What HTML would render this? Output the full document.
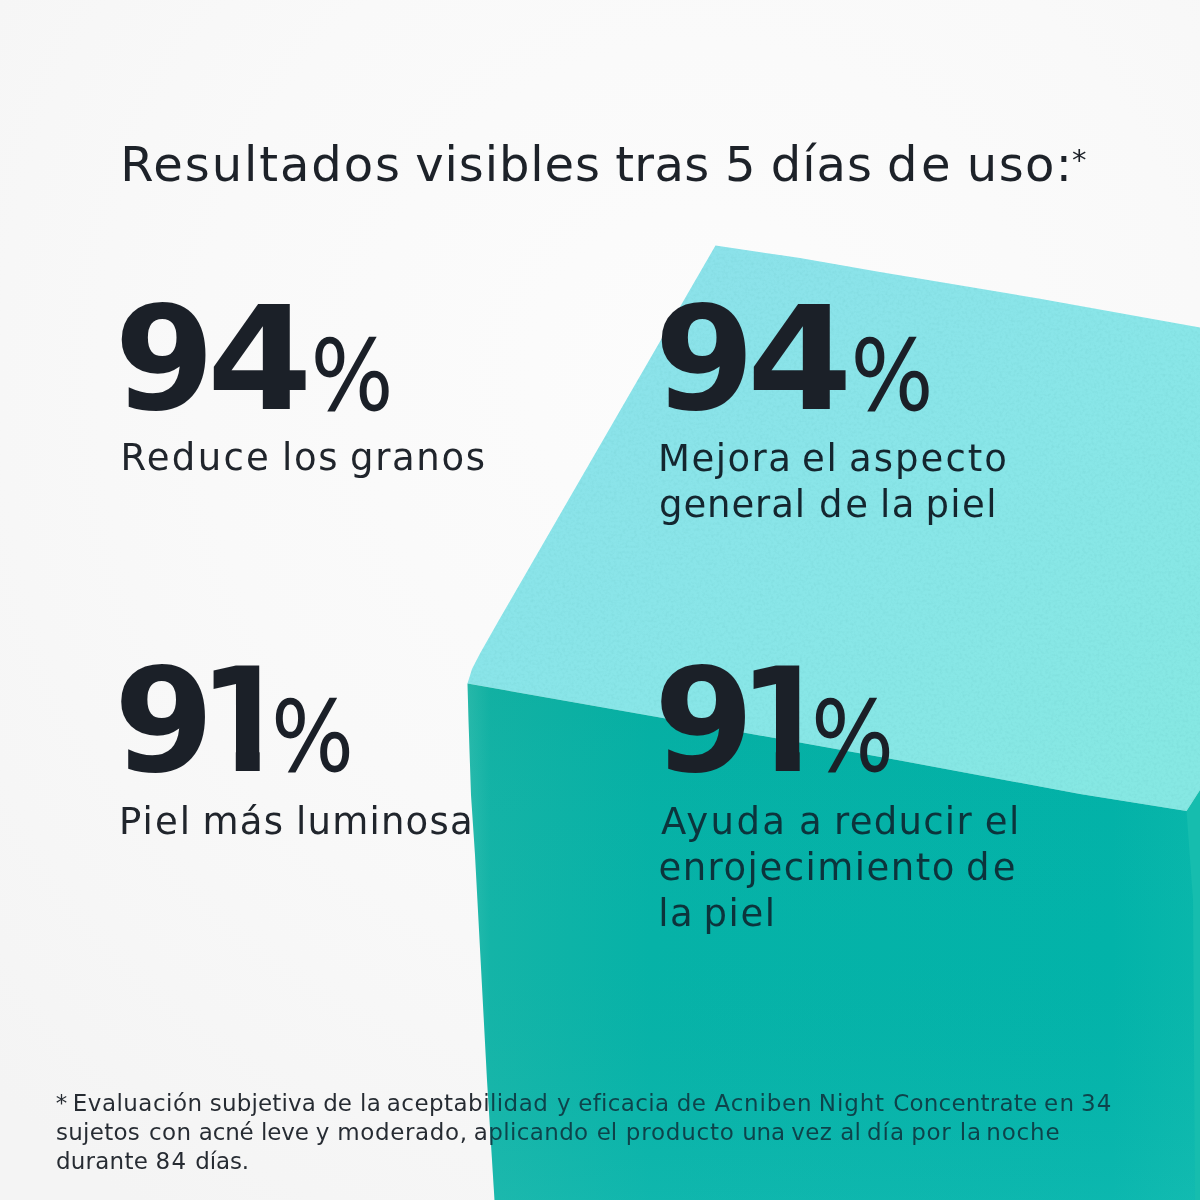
<!DOCTYPE html>
<html lang="es">
<head>
<meta charset="utf-8">
<title>Resultados visibles tras 5 días de uso</title>
<style>
html,body{margin:0;padding:0;background:#f8f8f8;}
body{width:1200px;height:1200px;overflow:hidden;position:relative;}
svg{position:absolute;left:0;top:0;display:block;}
.t{font-family:"DejaVu Sans","Liberation Sans",sans-serif;font-weight:400;fill:#1e232a;}
.tt{fill:#1d2229;}
.lb{fill:#20252c;}
#b2l1 .lb,#b2l2 .lb{fill:#14262f;}
#b4l1 .lb,#b4l2 .lb,#b4l3 .lb{fill:#0c343c;}
.ft{fill:url(#ftg);}
.big{font-family:"DejaVu Sans","Liberation Sans",sans-serif;font-weight:700;fill:#1b2028;}
.pct{font-family:"DejaVu Sans","Liberation Sans",sans-serif;font-weight:200;fill:#1b2028;stroke:#1b2028;stroke-width:3px;}
</style>
</head>
<body>
<svg width="1200" height="1200" viewBox="0 0 1200 1200">
  <defs>
    <radialGradient id="bg" gradientUnits="userSpaceOnUse" cx="700" cy="380" r="1000">
      <stop offset="0" stop-color="#fcfcfc"/>
      <stop offset="0.5" stop-color="#f9f9f9"/>
      <stop offset="1" stop-color="#f4f4f4"/>
    </radialGradient>
    <linearGradient id="top" x1="716" y1="246" x2="1100" y2="800" gradientUnits="userSpaceOnUse">
      <stop offset="0" stop-color="#8ce2ea"/>
      <stop offset="0.5" stop-color="#89e6e8"/>
      <stop offset="1" stop-color="#86e8e3"/>
    </linearGradient>
    <linearGradient id="front" x1="468" y1="0" x2="1200" y2="0" gradientUnits="userSpaceOnUse">
      <stop offset="0" stop-color="#2abcae"/>
      <stop offset="0.03" stop-color="#14b4a7"/>
      <stop offset="0.25" stop-color="#06b2a7"/>
      <stop offset="0.88" stop-color="#02b3a9"/>
      <stop offset="1" stop-color="#09b7ab"/>
    </linearGradient>
    <linearGradient id="frontv" x1="0" y1="690" x2="0" y2="1200" gradientUnits="userSpaceOnUse">
      <stop offset="0" stop-color="#008f78" stop-opacity=".10"/>
      <stop offset="0.5" stop-color="#20b0b0" stop-opacity="0"/>
      <stop offset="1" stop-color="#58d8d8" stop-opacity=".12"/>
    </linearGradient>
    <linearGradient id="ftg" x1="0" y1="0" x2="1200" y2="0" gradientUnits="userSpaceOnUse">
      <stop offset="0" stop-color="#262b32"/>
      <stop offset="0.4075" stop-color="#262b32"/>
      <stop offset="0.4085" stop-color="#0d434b"/>
      <stop offset="1" stop-color="#0d434b"/>
    </linearGradient>
    <filter id="grain" x="0" y="0" width="100%" height="100%">
      <feTurbulence type="fractalNoise" baseFrequency="0.35" numOctaves="2" seed="7" result="n"/>
      <feColorMatrix type="matrix" values="0 0 0 0 0.1  0 0 0 0 0.45  0 0 0 0 0.45  0.9 0 0 0 -0.38"/>
      <feComposite in2="SourceGraphic" operator="in"/>
    </filter>
  </defs>
  <rect width="1200" height="1200" fill="url(#bg)"/>
  <!-- cube -->
  <polygon id="topface" points="715.5,245.5 800,258 880,272 1040,298.7 1200,327.5 1200,790 1186.5,811 1080,794 900,760.5 660,717.5 467.5,683.5 472,669 480,653.5 499,620" fill="url(#top)"/>
  <polygon points="715.5,245.5 800,258 880,272 1040,298.7 1200,327.5 1200,790 1186.5,811 1080,794 900,760.5 660,717.5 467.5,683.5 472,669 480,653.5 499,620" fill="#000" filter="url(#grain)" opacity=".35"/>
  <polygon points="467.5,683.5 660,717.5 900,760.5 1080,794 1186.5,811 1200,812 1200,1200 494.5,1200 487,1080 475,855 471,795 468.5,720" fill="url(#front)"/>
  <polygon points="467.5,683.5 660,717.5 900,760.5 1080,794 1186.5,811 1200,812 1200,1200 494.5,1200 487,1080 475,855 471,795 468.5,720" fill="url(#frontv)"/>
  <polygon points="1186.5,811 1200,790 1200,1200 1195,1200 1193,900" fill="#16bdae"/>

  <text class="t tt" x="1072" y="170" font-size="29">*</text>
  <defs>
    <clipPath id="c10"><polygon points="200,650 259.7,650 259.7,775 235.8,775 235.8,705 200,705"/></clipPath>
    <clipPath id="c11"><polygon points="740,650 799.7,650 799.7,775 775.8,775 775.8,705 740,705"/></clipPath>
  </defs>
  <text class="big" x="114.3" y="409.2" font-size="144.4">9</text>
  <text class="big" transform="translate(207.0 409) scale(1.05 1)" font-size="144.4">4</text>
  <text class="pct" transform="translate(310.2 408.6) scale(0.929 1)" font-size="94.7">%</text>
  <text class="big" x="654.3" y="409.2" font-size="144.4">9</text>
  <text class="big" transform="translate(747.0 409) scale(1.05 1)" font-size="144.4">4</text>
  <text class="pct" transform="translate(850.2 408.6) scale(0.929 1)" font-size="94.7">%</text>
  <text class="big" x="113.8" y="771.3" font-size="144.4">9</text>
  <g clip-path="url(#c10)"><text class="big" transform="translate(198.8 771) scale(0.91 1)" font-size="144.4">1</text></g>
  <text class="pct" transform="translate(270.7 770.2) scale(0.929 1)" font-size="94.7">%</text>
  <text class="big" x="653.8" y="771.3" font-size="144.4">9</text>
  <g clip-path="url(#c11)"><text class="big" transform="translate(738.8 771) scale(0.91 1)" font-size="144.4">1</text></g>
  <text class="pct" transform="translate(810.7 770.2) scale(0.929 1)" font-size="94.7">%</text>
  <g id="title">
    <text class="t tt" x="120.20" y="180.8" font-size="48" textLength="279.80" lengthAdjust="spacing">Resultados</text>
    <text class="t tt" x="415.20" y="180.8" font-size="48" textLength="184.80" lengthAdjust="spacing">visibles</text>
    <text class="t tt" x="615.20" y="180.8" font-size="48" textLength="94.00" lengthAdjust="spacing">tras</text>
    <text class="t tt" x="725.00" y="180.8" font-size="48" textLength="30.55" lengthAdjust="spacing">5</text>
    <text class="t tt" x="770.80" y="180.8" font-size="48" textLength="101.20" lengthAdjust="spacing">días</text>
    <text class="t tt" x="887.09" y="180.8" font-size="48" textLength="63.46" lengthAdjust="spacing">de</text>
    <text class="t tt" x="966.80" y="180.8" font-size="48" textLength="105.20" lengthAdjust="spacing">uso:</text>
  </g>
  <g id="b1lab">
    <text class="t lb" x="120.45" y="470.2" font-size="37" textLength="148.40" lengthAdjust="spacing">Reduce</text>
    <text class="t lb" x="282.00" y="470.2" font-size="37" textLength="55.60" lengthAdjust="spacing">los</text>
    <text class="t lb" x="350.00" y="470.2" font-size="37" textLength="135.00" lengthAdjust="spacing">granos</text>
  </g>
  <g id="b2l1">
    <text class="t lb" x="658.00" y="471.4" font-size="37" textLength="133.00" lengthAdjust="spacing">Mejora</text>
    <text class="t lb" x="802.00" y="471.4" font-size="37" textLength="34.80" lengthAdjust="spacing">el</text>
    <text class="t lb" x="849.00" y="471.4" font-size="37" textLength="158.00" lengthAdjust="spacing">aspecto</text>
  </g>
  <g id="b2l2">
    <text class="t lb" x="659.00" y="517.4" font-size="37" textLength="146.00" lengthAdjust="spacing">general</text>
    <text class="t lb" x="819.00" y="517.4" font-size="37" textLength="49.00" lengthAdjust="spacing">de</text>
    <text class="t lb" x="879.89" y="517.4" font-size="37" textLength="34.43" lengthAdjust="spacing">la</text>
    <text class="t lb" x="925.40" y="517.4" font-size="37" textLength="71.20" lengthAdjust="spacing">piel</text>
  </g>
  <g id="b3lab">
    <text class="t lb" x="119.00" y="834.4" font-size="37" textLength="71.00" lengthAdjust="spacing">Piel</text>
    <text class="t lb" x="202.60" y="834.4" font-size="37" textLength="80.40" lengthAdjust="spacing">más</text>
    <text class="t lb" x="296.00" y="834.4" font-size="37" textLength="176.60" lengthAdjust="spacing">luminosa</text>
  </g>
  <g id="b4l1">
    <text class="t lb" x="661.07" y="834.4" font-size="37" textLength="123.93" lengthAdjust="spacing">Ayuda</text>
    <text class="t lb" x="799.00" y="834.4" font-size="37" textLength="22.69" lengthAdjust="spacing">a</text>
    <text class="t lb" x="834.00" y="834.4" font-size="37" textLength="137.60" lengthAdjust="spacing">reducir</text>
    <text class="t lb" x="984.87" y="834.4" font-size="37" textLength="34.53" lengthAdjust="spacing">el</text>
  </g>
  <g id="b4l2">
    <text class="t lb" x="658.40" y="880.4" font-size="37" textLength="296.00" lengthAdjust="spacing">enrojecimiento</text>
    <text class="t lb" x="966.00" y="880.4" font-size="37" textLength="49.60" lengthAdjust="spacing">de</text>
  </g>
  <g id="b4l3">
    <text class="t lb" x="658.34" y="926.4" font-size="37" textLength="34.43" lengthAdjust="spacing">la</text>
    <text class="t lb" x="703.60" y="926.4" font-size="37" textLength="71.40" lengthAdjust="spacing">piel</text>
  </g>
  <g id="f1">
    <text class="t ft" x="55.75" y="1110.5" font-size="23" textLength="11.50" lengthAdjust="spacing">*</text>
    <text class="t ft" x="72.80" y="1110.5" font-size="23" textLength="129.20" lengthAdjust="spacing">Evaluación</text>
    <text class="t ft" x="209.80" y="1110.5" font-size="23" textLength="106.00" lengthAdjust="spacing">subjetiva</text>
    <text class="t ft" x="323.20" y="1110.5" font-size="23" textLength="28.60" lengthAdjust="spacing">de</text>
    <text class="t ft" x="360.00" y="1110.5" font-size="23" textLength="20.80" lengthAdjust="spacing">la</text>
    <text class="t ft" x="386.80" y="1110.5" font-size="23" textLength="161.00" lengthAdjust="spacing">aceptabilidad</text>
    <text class="t ft" x="556.95" y="1110.5" font-size="23" textLength="13.62" lengthAdjust="spacing">y</text>
    <text class="t ft" x="578.20" y="1110.5" font-size="23" textLength="90.80" lengthAdjust="spacing">eficacia</text>
    <text class="t ft" x="676.80" y="1110.5" font-size="23" textLength="29.20" lengthAdjust="spacing">de</text>
    <text class="t ft" x="714.50" y="1110.5" font-size="23" textLength="97.11" lengthAdjust="spacing">Acniben</text>
    <text class="t ft" x="818.86" y="1110.5" font-size="23" textLength="65.25" lengthAdjust="spacing">Night</text>
    <text class="t ft" x="893.20" y="1110.5" font-size="23" textLength="144.00" lengthAdjust="spacing">Concentrate</text>
    <text class="t ft" x="1044.02" y="1110.5" font-size="23" textLength="30.11" lengthAdjust="spacing">en</text>
    <text class="t ft" x="1081.00" y="1110.5" font-size="23" textLength="30.40" lengthAdjust="spacing">34</text>
  </g>
  <g id="f2">
    <text class="t ft" x="56.00" y="1139.8" font-size="23" textLength="83.80" lengthAdjust="spacing">sujetos</text>
    <text class="t ft" x="149.00" y="1139.8" font-size="23" textLength="42.20" lengthAdjust="spacing">con</text>
    <text class="t ft" x="198.70" y="1139.8" font-size="23" textLength="55.01" lengthAdjust="spacing">acné</text>
    <text class="t ft" x="260.98" y="1139.8" font-size="23" textLength="47.85" lengthAdjust="spacing">leve</text>
    <text class="t ft" x="315.70" y="1139.8" font-size="23" textLength="13.62" lengthAdjust="spacing">y</text>
    <text class="t ft" x="337.20" y="1139.8" font-size="23" textLength="129.80" lengthAdjust="spacing">moderado,</text>
    <text class="t ft" x="473.80" y="1139.8" font-size="23" textLength="114.40" lengthAdjust="spacing">aplicando</text>
    <text class="t ft" x="596.77" y="1139.8" font-size="23" textLength="20.32" lengthAdjust="spacing">el</text>
    <text class="t ft" x="625.76" y="1139.8" font-size="23" textLength="108.07" lengthAdjust="spacing">producto</text>
    <text class="t ft" x="742.17" y="1139.8" font-size="23" textLength="42.91" lengthAdjust="spacing">una</text>
    <text class="t ft" x="791.20" y="1139.8" font-size="23" textLength="40.60" lengthAdjust="spacing">vez</text>
    <text class="t ft" x="840.20" y="1139.8" font-size="23" textLength="20.60" lengthAdjust="spacing">al</text>
    <text class="t ft" x="866.88" y="1139.8" font-size="23" textLength="37.16" lengthAdjust="spacing">día</text>
    <text class="t ft" x="911.20" y="1139.8" font-size="23" textLength="39.60" lengthAdjust="spacing">por</text>
    <text class="t ft" x="959.80" y="1139.8" font-size="23" textLength="21.40" lengthAdjust="spacing">la</text>
    <text class="t ft" x="986.21" y="1139.8" font-size="23" textLength="73.48" lengthAdjust="spacing">noche</text>
  </g>
  <g id="f3">
    <text class="t ft" x="56.00" y="1168.75" font-size="23" textLength="91.80" lengthAdjust="spacing">durante</text>
    <text class="t ft" x="155.38" y="1168.75" font-size="23" textLength="30.66" lengthAdjust="spacing">84</text>
    <text class="t ft" x="195.27" y="1168.75" font-size="23" textLength="53.82" lengthAdjust="spacing">días.</text>
  </g>
</svg>
</body>
</html>
